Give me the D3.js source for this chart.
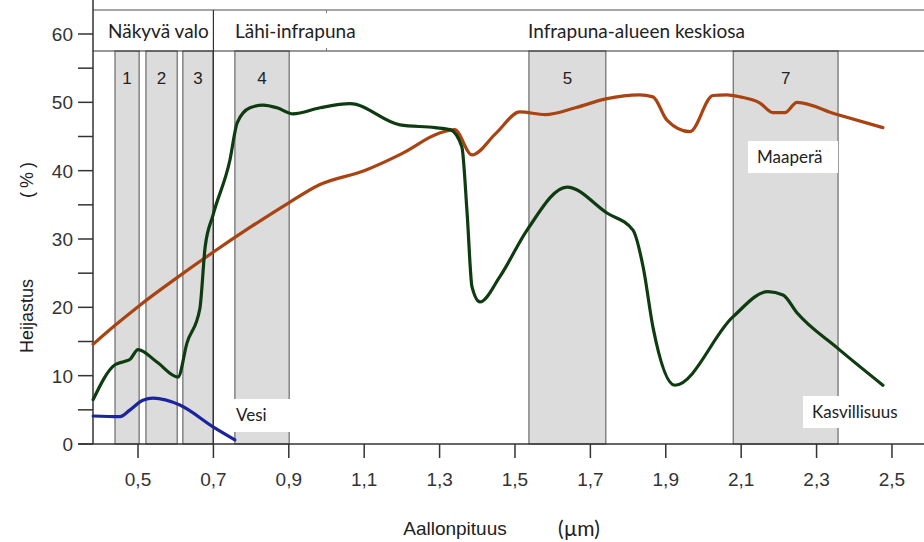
<!DOCTYPE html>
<html>
<head>
<meta charset="utf-8">
<script src="https://cdn.jsdelivr.net/npm/d3@7"></script>
<style>
  body { margin: 0; background: #fff; }
  svg { display: block; }
</style>
</head>
<body>
<div id="chart"></div>
<script>
// spectral bands (µm)
const bandNames = ["1", "2", "3", "4", "5", "7"];
const bandStart = [0.439, 0.521, 0.619, 0.757, 1.537, 2.079];
const bandEnd = [0.503, 0.604, 0.699, 0.901, 1.741, 2.357];

const regionNames = ["Näkyvä valo", "Lähi-infrapuna", "Infrapuna-alueen keskiosa"];
const regionStart = [0.38, 0.7, 1.0];

const yTicks = [0, 10, 20, 30, 40, 50, 60];
const xTicks = [0.5, 0.7, 0.9, 1.1, 1.3, 1.5, 1.7, 1.9, 2.1, 2.3, 2.5];

// Maaperä
const soilWl = [0.381, 0.44, 0.5, 0.6, 0.7, 0.8, 0.9, 0.98, 1.1, 1.2, 1.3, 1.34, 1.386, 1.45, 1.513, 1.58, 1.66, 1.741, 1.83, 1.866, 1.903, 1.964, 2.025, 2.062, 2.097, 2.15, 2.184, 2.216, 2.248, 2.35, 2.476];
const soilVal = [14.6, 17.4, 20.1, 24.2, 28.1, 31.8, 35.3, 37.9, 40.0, 42.5, 45.5, 46.0, 42.3, 45.5, 48.6, 48.2, 49.2, 50.5, 51.1, 50.8, 47.4, 45.7, 51.0, 51.1, 50.8, 49.9, 48.5, 48.5, 50.0, 48.3, 46.3];

// Kasvillisuus
const vegWl = [0.381, 0.439, 0.466, 0.479, 0.5, 0.55, 0.606, 0.63, 0.664, 0.678, 0.699, 0.744, 0.763, 0.797, 0.832, 0.869, 0.911, 0.983, 1.062, 1.195, 1.288, 1.328, 1.359, 1.373, 1.386, 1.407, 1.46, 1.532, 1.638, 1.744, 1.813, 1.84, 1.866, 1.924, 2.078, 2.171, 2.211, 2.248, 2.354, 2.476];
const vegVal = [6.5, 11.6, 12.1, 12.4, 13.8, 12.0, 9.8, 14.8, 19.8, 28.8, 33.5, 41.6, 47.0, 49.2, 49.6, 49.2, 48.3, 49.2, 49.8, 46.7, 46.3, 46.0, 43.5, 33.8, 23.0, 20.8, 24.5, 31.3, 37.6, 33.8, 31.3, 25.9, 17.1, 8.6, 18.6, 22.3, 21.8, 19.2, 14.1, 8.6];

// Vesi
const waterWl = [0.381, 0.452, 0.479, 0.513, 0.54, 0.611, 0.699, 0.757];
const waterVal = [4.1, 4.0, 5.0, 6.4, 6.7, 5.7, 2.5, 0.6];

const width = 924, height = 542;
const left = 93, bottom = 444, top60 = 34, headTop = 10, headBottom = 51;

const svg = d3.select("#chart").append("svg")
  .attr("width", width)
  .attr("height", height);

const x = d3.scaleLinear().domain([0.3806, 2.585]).range([left, width]);
const y = d3.scaleLinear().domain([0, 60]).range([bottom, top60]);

const sansFont = "'Liberation Sans', Arial, sans-serif";
const labelFont = "Lato, 'Open Sans', sans-serif";

// bands
const bands = svg.append("g").attr("class", "bands");
bandNames.forEach((name, i) => {
  bands.append("rect")
    .attr("x", x(bandStart[i]))
    .attr("y", headBottom)
    .attr("width", x(bandEnd[i]) - x(bandStart[i]))
    .attr("height", bottom - headBottom)
    .attr("fill", "#dcdcdc")
    .attr("stroke", "#6a6a6a")
    .attr("stroke-width", 1.2);
  bands.append("text")
    .attr("x", (x(bandStart[i]) + x(bandEnd[i])) / 2)
    .attr("y", 78)
    .attr("dy", "0.35em")
    .attr("text-anchor", "middle")
    .attr("font-family", sansFont)
    .attr("font-size", 17)
    .attr("fill", "#222")
    .text(name);
});

// header strip
const head = svg.append("g").attr("class", "header");
head.append("line")
  .attr("x1", left).attr("x2", width)
  .attr("y1", headTop).attr("y2", headTop)
  .attr("stroke", "#888").attr("stroke-width", 1.5);
head.append("line")
  .attr("x1", left).attr("x2", width)
  .attr("y1", headBottom).attr("y2", headBottom)
  .attr("stroke", "#333").attr("stroke-width", 1.2);
head.append("line")
  .attr("x1", x(0.7)).attr("x2", x(0.7))
  .attr("y1", headTop).attr("y2", bottom)
  .attr("stroke", "#333").attr("stroke-width", 1.2);
[1.0].forEach(w => {
  head.append("line")
    .attr("x1", x(w)).attr("x2", x(w))
    .attr("y1", headTop).attr("y2", headTop + 3)
    .attr("stroke", "#777");
  head.append("line")
    .attr("x1", x(w)).attr("x2", x(w))
    .attr("y1", headBottom - 3).attr("y2", headBottom)
    .attr("stroke", "#777");
});
const headX = [108, 235, 528];
regionNames.forEach((name, i) => {
  head.append("text")
    .attr("x", headX[i])
    .attr("y", 31)
    .attr("dy", "0.35em")
    .attr("font-family", labelFont)
    .attr("font-size", 19)
    .attr("fill", "#222")
    .text(name);
});

// axes
const yAxis = svg.append("g").attr("class", "y-axis");
yAxis.append("line")
  .attr("x1", left).attr("x2", left)
  .attr("y1", 0).attr("y2", bottom)
  .attr("stroke", "#333").attr("stroke-width", 1.5);
d3.range(0, 61, 5).forEach(v => {
  yAxis.append("line")
    .attr("x1", left - 15).attr("x2", left)
    .attr("y1", y(v)).attr("y2", y(v))
    .attr("stroke", "#333").attr("stroke-width", 1.5);
});
yTicks.forEach(v => {
  yAxis.append("text")
    .attr("x", left - 20)
    .attr("y", y(v))
    .attr("dy", "0.36em")
    .attr("text-anchor", "end")
    .attr("font-family", sansFont)
    .attr("font-size", 19)
    .attr("fill", "#333")
    .text(v);
});

const xAxis = svg.append("g").attr("class", "x-axis");
xAxis.append("line")
  .attr("x1", left - 15).attr("x2", width)
  .attr("y1", bottom).attr("y2", bottom)
  .attr("stroke", "#333").attr("stroke-width", 1.5);
xTicks.forEach(v => {
  xAxis.append("line")
    .attr("x1", x(v)).attr("x2", x(v))
    .attr("y1", bottom).attr("y2", bottom + 14)
    .attr("stroke", "#333").attr("stroke-width", 1.5);
  xAxis.append("text")
    .attr("x", x(v))
    .attr("y", 479)
    .attr("dy", "0.36em")
    .attr("text-anchor", "middle")
    .attr("font-family", sansFont)
    .attr("font-size", 19)
    .attr("fill", "#333")
    .text(d3.format(".1f")(v).replace(".", ","));
});

svg.append("text")
  .attr("x", 455).attr("y", 528).attr("dy", "0.35em")
  .attr("text-anchor", "middle")
  .attr("font-family", sansFont).attr("font-size", 19).attr("fill", "#222")
  .text("Aallonpituus");
svg.append("text")
  .attr("x", 579).attr("y", 529).attr("dy", "0.35em")
  .attr("text-anchor", "middle")
  .attr("font-family", labelFont).attr("font-size", 21).attr("fill", "#222")
  .text("(µm)");
svg.append("text")
  .attr("transform", "translate(27,316) rotate(-90)")
  .attr("dy", "0.35em")
  .attr("text-anchor", "middle")
  .attr("font-family", sansFont).attr("font-size", 18).attr("fill", "#222")
  .text("Heijastus");
svg.append("text")
  .attr("transform", "translate(27,178) rotate(-90)")
  .attr("dy", "0.35em")
  .attr("text-anchor", "middle")
  .attr("font-family", sansFont).attr("font-size", 18).attr("fill", "#222")
  .attr("letter-spacing", 4)
  .text("(%)");

// label boxes (drawn over bands, below curves)
const boxes = [
  { text: "Vesi", x0: 228, y0: 399, x1: 290, y1: 432, tx: 236 },
  { text: "Maaperä", x0: 748, y0: 141, x1: 838, y1: 173, tx: 757 },
  { text: "Kasvillisuus", x0: 803, y0: 396, x1: 922, y1: 428, tx: 812 }
];
const labels = svg.append("g").attr("class", "labels");
boxes.forEach(b => {
  labels.append("rect")
    .attr("x", b.x0).attr("y", b.y0)
    .attr("width", b.x1 - b.x0).attr("height", b.y1 - b.y0)
    .attr("fill", "#fff");
  labels.append("text")
    .attr("x", b.tx).attr("y", (b.y0 + b.y1) / 2)
    .attr("dy", "0.35em")
    .attr("font-family", labelFont).attr("font-size", 17).attr("fill", "#222")
    .text(b.text);
});

// curves
const line = d3.line()
  .x(d => x(d[0]))
  .y(d => y(d[1]))
  .curve(d3.curveMonotoneX);

const series = [
  { wl: soilWl, val: soilVal, color: "#a94412" },
  { wl: vegWl, val: vegVal, color: "#0e3b10" },
  { wl: waterWl, val: waterVal, color: "#1b249c" }
];

const curves = svg.append("g").attr("class", "curves");
series.forEach(s => {
  curves.append("path")
    .datum(s.wl.map((w, i) => [w, s.val[i]]))
    .attr("d", line)
    .attr("fill", "none")
    .attr("stroke", s.color)
    .attr("stroke-width", 3.2)
    .attr("stroke-linejoin", "round")
    .attr("stroke-linecap", "round");
});
</script>
</body>
</html>
